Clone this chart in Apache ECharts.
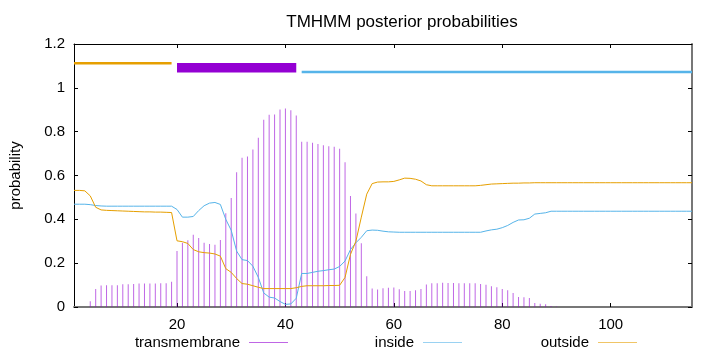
<!DOCTYPE html>
<html>
<head>
<meta charset="utf-8">
<script src="https://cdn.jsdelivr.net/npm/echarts@6/dist/echarts.min.js"></script>
<style>html,body{margin:0;padding:0;background:#fff}#c{width:720px;height:352px}</style>
</head>
<body>
<div id="c"></div>
<script>
// sequence positions 1..115
const positions = [];
for (let i = 1; i <= 115; i++) positions.push(i);

const transmembrane = [
  0, 0, 0, 0.026, 0.082, 0.098, 0.099, 0.099, 0.099, 0.104,
  0.104, 0.105, 0.107, 0.107, 0.107, 0.107, 0.108, 0.108, 0.115, 0.255,
  0.293, 0.305, 0.33, 0.315, 0.293, 0.287, 0.284, 0.306, 0.428, 0.497,
  0.615, 0.681, 0.687, 0.719, 0.772, 0.854, 0.877, 0.878, 0.901, 0.906,
  0.898, 0.874, 0.754, 0.754, 0.749, 0.744, 0.738, 0.734, 0.731, 0.722,
  0.66, 0.507, 0.427, 0.291, 0.14, 0.084, 0.08, 0.086, 0.088, 0.089,
  0.081, 0.073, 0.073, 0.076, 0.082, 0.103, 0.108, 0.108, 0.111, 0.11,
  0.11, 0.108, 0.108, 0.108, 0.108, 0.105, 0.101, 0.095, 0.09, 0.082,
  0.076, 0.064, 0.046, 0.044, 0.041, 0.018, 0.015, 0.012, 0.005, 0.002,
  0, 0, 0, 0, 0, 0, 0, 0, 0, 0,
  0, 0, 0, 0, 0, 0, 0, 0, 0, 0,
  0, 0, 0, 0, 0
];

const inside = [
  0.469, 0.469, 0.469, 0.467, 0.463, 0.461, 0.46, 0.46, 0.46, 0.46,
  0.46, 0.46, 0.46, 0.46, 0.46, 0.46, 0.46, 0.46, 0.46, 0.445,
  0.41, 0.41, 0.413, 0.44, 0.462, 0.474, 0.477, 0.468, 0.40, 0.35,
  0.255, 0.216, 0.212, 0.186, 0.135, 0.064, 0.045, 0.041, 0.025, 0.012,
  0.014, 0.04, 0.153, 0.153, 0.158, 0.163, 0.166, 0.17, 0.173, 0.185,
  0.21, 0.262, 0.293, 0.318, 0.348, 0.351, 0.35, 0.346, 0.343, 0.342,
  0.341, 0.341, 0.341, 0.341, 0.341, 0.341, 0.341, 0.341, 0.341, 0.341,
  0.341, 0.341, 0.341, 0.341, 0.341, 0.341, 0.347, 0.352, 0.355, 0.362,
  0.372, 0.386, 0.397, 0.398, 0.405, 0.424, 0.427, 0.43, 0.437, 0.437,
  0.437, 0.437, 0.437, 0.437, 0.437, 0.437, 0.437, 0.437, 0.437, 0.437,
  0.437, 0.437, 0.437, 0.437, 0.437, 0.437, 0.437, 0.437, 0.437, 0.437,
  0.437, 0.437, 0.437, 0.437, 0.437
];

const outside = [
  0.532, 0.532, 0.53, 0.507, 0.455, 0.443, 0.441, 0.44, 0.439, 0.438,
  0.437, 0.436, 0.435, 0.434, 0.434, 0.433, 0.433, 0.432, 0.431, 0.302,
  0.298, 0.29, 0.262, 0.252, 0.248, 0.246, 0.242, 0.232, 0.175, 0.158,
  0.13, 0.107, 0.104, 0.097, 0.09, 0.084, 0.084, 0.084, 0.084, 0.084,
  0.084, 0.088, 0.094, 0.097, 0.097, 0.097, 0.097, 0.098, 0.098, 0.099,
  0.135, 0.24, 0.30, 0.41, 0.515, 0.563, 0.57, 0.571, 0.571, 0.573,
  0.58, 0.588, 0.587, 0.583, 0.575, 0.558, 0.553, 0.553, 0.553, 0.553,
  0.553, 0.553, 0.553, 0.553, 0.553, 0.555, 0.558, 0.561, 0.562, 0.563,
  0.564, 0.565, 0.565, 0.566, 0.566, 0.567, 0.567, 0.567, 0.567, 0.567,
  0.567, 0.567, 0.567, 0.567, 0.567, 0.567, 0.567, 0.567, 0.567, 0.567,
  0.567, 0.567, 0.567, 0.567, 0.567, 0.567, 0.567, 0.567, 0.567, 0.567,
  0.567, 0.567, 0.567, 0.567, 0.567
];

// predicted topology segments
const segNames = ['outside', 'transmembrane', 'inside'];
const segStart = [1, 20, 43];
const segEnd = [19, 42, 115];
const segLevel = [1.112, 1.092, 1.072];

const xTicks = [20, 40, 60, 80, 100];

const C_TM = '#9400d3', C_IN = '#56b4e9', C_OUT = '#e69f00';
const segColors = {outside: C_OUT, transmembrane: C_TM, inside: C_IN};
const segWidths = {outside: 2.5, transmembrane: 9.5, inside: 2.5};

const FONT = 'Liberation Sans';

const chart = echarts.init(document.getElementById('c'), null, {renderer: 'canvas'});

const segSeries = segNames.map((n, i) => ({
  type: 'line',
  name: 'seg_' + n,
  data: [[segStart[i], segLevel[i]], [segEnd[i], segLevel[i]]],
  showSymbol: false,
  silent: true,
  lineStyle: {color: segColors[n], width: segWidths[n], cap: 'butt'},
  itemStyle: {color: segColors[n]},
  z: 3
}));

function mkLegend(name, right) {
  return {
    data: [name],
    right: right,
    bottom: 2,
    align: 'right',
    icon: 'rect',
    itemWidth: 39,
    itemHeight: 1,
    padding: 0,
    textStyle: {fontFamily: FONT, fontSize: 15, color: '#000', padding: [0, 4, 0, 0]},
    selectedMode: false
  };
}

chart.setOption({
  animation: false,
  backgroundColor: '#fff',
  title: {
    text: 'TMHMM posterior probabilities',
    left: 397,
    top: 9,
    textAlign: 'center',
    textStyle: {fontFamily: FONT, fontSize: 17, fontWeight: 'normal', color: '#000'}
  },
  legend: [
    mkLegend('transmembrane', 432),
    mkLegend('inside', 258),
    mkLegend('outside', 83)
  ],
  grid: {left: 73, top: 44, width: 619, height: 263, containLabel: false},
  xAxis: [{
    type: 'value', min: 1, max: 115,
    axisLine: {show: true, onZero: false, lineStyle: {color: '#777', width: 2}},
    axisTick: {show: true, inside: true, length: 4, customValues: xTicks, lineStyle: {color: '#000'}},
    axisLabel: {customValues: xTicks, fontFamily: FONT, fontSize: 15, color: '#000', margin: 10},
    splitLine: {show: false}
  }, {
    type: 'value', min: 1, max: 115, position: 'top',
    axisLine: {show: true, onZero: false, lineStyle: {color: '#000', width: 1}},
    axisTick: {show: true, inside: true, length: 4, customValues: xTicks, lineStyle: {color: '#000'}},
    axisLabel: {show: false},
    splitLine: {show: false}
  }],
  yAxis: [{
    type: 'value', min: 0, max: 1.2, interval: 0.2,
    name: 'probability', nameLocation: 'middle', nameGap: 51, nameRotate: 90,
    nameTextStyle: {fontFamily: FONT, fontSize: 15, color: '#000'},
    axisLine: {show: true, onZero: false, lineStyle: {color: '#000', width: 1}},
    axisTick: {show: true, inside: true, length: 4, lineStyle: {color: '#000'}},
    axisLabel: {fontFamily: FONT, fontSize: 15, color: '#000', margin: 9},
    splitLine: {show: false}
  }, {
    type: 'value', min: 0, max: 1.2, interval: 0.2, position: 'right',
    axisLine: {show: true, onZero: false, lineStyle: {color: '#777', width: 2}},
    axisTick: {show: true, inside: true, length: 4, lineStyle: {color: '#000'}},
    axisLabel: {show: false},
    splitLine: {show: false}
  }],
  series: [
    {
      type: 'bar', name: 'transmembrane',
      data: positions.map((x, i) => [x, transmembrane[i]]),
      barWidth: 1,
      itemStyle: {color: 'rgba(148,0,211,0.6)'},
      z: 2
    },
    {
      type: 'line', name: 'inside',
      data: positions.map((x, i) => [x, inside[i]]),
      showSymbol: false,
      lineStyle: {color: C_IN, width: 1},
      itemStyle: {color: 'rgba(86,180,233,0.6)'},
      z: 4
    },
    {
      type: 'line', name: 'outside',
      data: positions.map((x, i) => [x, outside[i]]),
      showSymbol: false,
      lineStyle: {color: C_OUT, width: 1},
      itemStyle: {color: 'rgba(230,159,0,0.6)'},
      z: 4
    }
  ].concat(segSeries)
});
</script>
</body>
</html>
